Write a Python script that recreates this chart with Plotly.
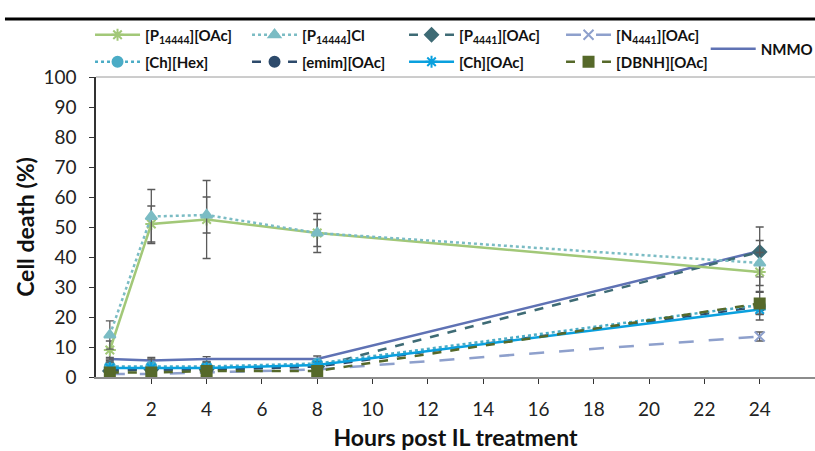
import plotly.graph_objects as go

hours = [0.5, 2, 4, 8, 24]

names = ["[P<sub>14444</sub>][OAc]", "[P<sub>14444</sub>]Cl", "[P<sub>4441</sub>][OAc]", "[N<sub>4441</sub>][OAc]",
         "[Ch][Hex]", "[emim][OAc]", "[Ch][OAc]", "[DBNH][OAc]", "NMMO"]

p14444_oac = [9, 51, 52.5, 48, 35]
p14444_oac_err = [3, 6, 13, 4.5, 6.5]
p14444_cl = [14, 53.5, 54, 48, 38]
p14444_cl_err = [4.7, 9, 6, 6.5, 7.5]
p4441_oac = [2, 2.5, 2.5, 3.5, 41.7]
p4441_oac_err = [0.5, 0.5, 0.5, 0.5, 8.3]
n4441_oac = [1, 1, 1.5, 2.5, 13.5]
n4441_oac_err = [0.5, 0.5, 0.5, 0.5, 1.5]
ch_hex = [3.5, 3.5, 3.5, 4.5, 24]
ch_hex_err = [0.8, 0.8, 0.8, 0.8, 1.7]
emim_oac = [2.5, 2.5, 2.5, 3.5, 23.5]
emim_oac_err = [0.5, 0.5, 0.5, 0.5, 2.5]
ch_oac = [3, 3, 3, 4, 22.5]
ch_oac_err = [2, 3, 2, 1, 3.5]
dbnh_oac = [1.5, 1.5, 2, 2, 24.5]
dbnh_oac_err = [0.5, 0.5, 0.5, 0.5, 3.7]
nmmo = [6, 5.5, 6, 6, 42]
nmmo_err = [0.5, 1, 0.8, 1, 0]

x_ticks = [2, 4, 6, 8, 10, 12, 14, 16, 18, 20, 22, 24]
y_ticks = [0, 10, 20, 30, 40, 50, 60, 70, 80, 90, 100]

# (name, values, errors, colour, dash, marker, legend group, legend rank)
series = [
    (names[8], nmmo, nmmo_err, "#5F72B4", "solid", None, "legend2", 9),
    (names[3], n4441_oac, n4441_oac_err, "#8EA0CC", "longdash", "x-thin-open", "legend", 4),
    (names[2], p4441_oac, p4441_oac_err, "#3E6B75", "dash", "diamond", "legend", 3),
    (names[5], emim_oac, emim_oac_err, "#2D4A6B", "dash", "circle", "legend3", 6),
    (names[4], ch_hex, ch_hex_err, "#4BACC6", "dot", "circle", "legend3", 5),
    (names[6], ch_oac, ch_oac_err, "#0AA0DE", "solid", "asterisk-open", "legend3", 7),
    (names[7], dbnh_oac, dbnh_oac_err, "#56692A", "dash", "square", "legend3", 8),
    (names[0], p14444_oac, p14444_oac_err, "#A2C878", "solid", "asterisk-open", "legend", 1),
    (names[1], p14444_cl, p14444_cl_err, "#7BBCC4", "dot", "triangle-up", "legend", 2),
]

fig = go.Figure()
for nm, ys, err, col, dash, sym, lg, rank in series:
    fig.add_trace(go.Scatter(
        x=hours, y=ys, name=nm, legend=lg, legendrank=rank,
        mode="lines+markers" if sym else "lines",
        line=dict(color=col, width=2.5, dash=dash),
        marker=dict(symbol=sym, color=col, size=10, line=dict(color=col, width=2)) if sym else None,
        error_y=dict(type="data", array=err, visible=True, color="#5A5A5A", thickness=1.3, width=4),
    ))

# thick rule above the chart and thin frame line at the top of the plot area
fig.add_shape(type="line", xref="paper", yref="paper", x0=-0.1266, x1=1.0, y0=1.193, y1=1.193,
              line=dict(color="black", width=3))
fig.add_shape(type="line", xref="paper", yref="paper", x0=0, x1=1.0, y0=1.0, y1=1.0,
              line=dict(color="#9A9A9A", width=1))

leg_common = dict(orientation="h", xanchor="left", yanchor="middle",
                  font=dict(size=15, color="#111", weight="bold"), bgcolor="rgba(0,0,0,0)",
                  itemwidth=45, traceorder="normal")

fig.update_layout(
    width=815, height=451,
    margin=dict(l=96, r=0, t=77, b=74, autoexpand=False),
    paper_bgcolor="white", plot_bgcolor="white",
    font=dict(family="Lato, Open Sans, sans-serif", color="#222"),
    legend=dict(x=-0.0083, y=1.14, entrywidth=97, entrywidthmode="pixels", **leg_common),
    legend3=dict(x=-0.0083, y=1.05, entrywidth=97, entrywidthmode="pixels", **leg_common),
    legend2=dict(x=0.848, y=1.0933, **leg_common),
    showlegend=True,
)
fig.update_xaxes(range=[0, 26], tickvals=x_ticks, ticktext=[str(v) for v in x_ticks],
                 showline=True, linecolor="#8C8C8C", linewidth=1.5, ticks="outside", ticklen=5,
                 tickcolor="#333", tickfont=dict(size=19), showgrid=False, zeroline=False,
                 ticklabelstandoff=9,
                 title=dict(text="<b>Hours post IL treatment</b>", font=dict(size=23, color="#111"), standoff=13))
fig.update_yaxes(range=[0, 100], tickvals=y_ticks, showline=True, linecolor="#333", linewidth=1.5,
                 ticks="outside", ticklen=5, tickcolor="#333", tickfont=dict(size=19), showgrid=False,
                 zeroline=False, ticklabelstandoff=9,
                 title=dict(text="<b>Cell death (%)</b>", font=dict(size=23, color="#111"), standoff=2))

fig.write_html("out.html")
